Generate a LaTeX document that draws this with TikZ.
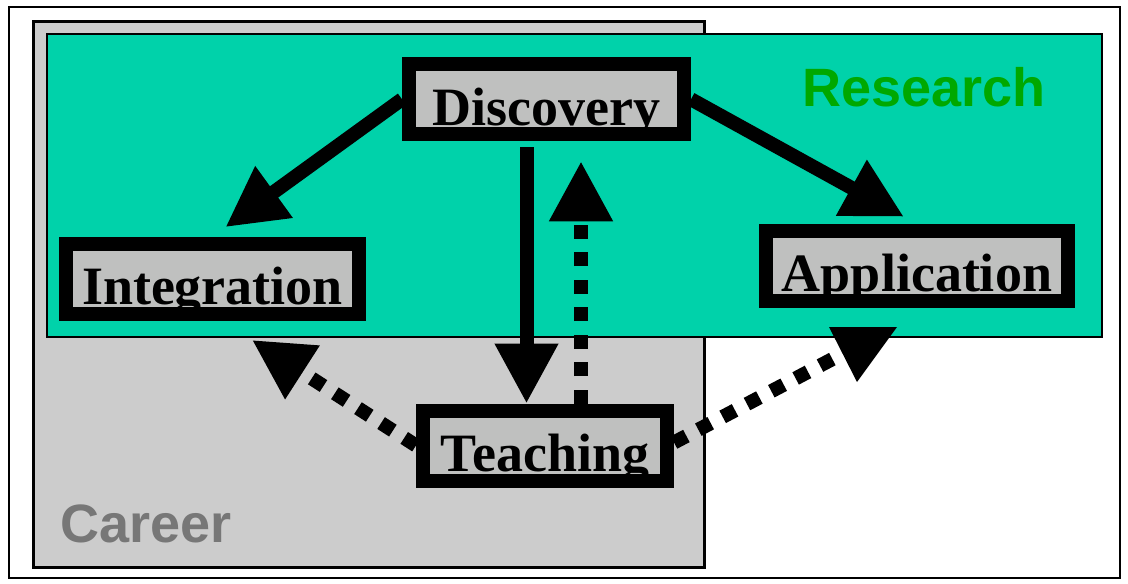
\documentclass[tikz,border=0pt]{standalone}
\usepackage{fontspec}
\setmainfont{Liberation Serif}
\setsansfont{Liberation Sans}
\usepackage{tikz}
\usetikzlibrary{arrows.meta}

\definecolor{researchteal}{RGB}{0,210,170}
\definecolor{careergray}{RGB}{204,204,204}
\definecolor{boxgray}{RGB}{191,192,191}
\definecolor{researchgreen}{RGB}{0,168,0}
\definecolor{careertext}{RGB}{119,119,119}

\begin{document}
\begin{tikzpicture}[x=1pt, y=-1pt,
	scholar/.style={draw=black, fill=boxgray, line width=14pt, inner sep=0pt,
		minimum height=70pt, text height=51.5pt, text depth=0pt,
		font=\bfseries\fontsize{54}{60}\selectfont},
	flow/.style={line width=14pt, -{Triangle[length=60pt, width=60pt]}},
	dots/.style={flow, dash pattern=on 14pt off 13.5pt},
	arealabel/.style={font=\sffamily\bfseries\fontsize{54}{60}\selectfont,
		inner sep=0pt, anchor=base west}]
	\useasboundingbox (0,0) rectangle (1128,584);

	% Drawing the frame and the two areas
	\draw[line width=2.5pt] (9,7) rectangle (1120,578);
	\draw[fill=careergray, line width=3pt] (33,21) rectangle (704,567);
	\draw[fill=researchteal, line width=1.5pt] (47,34) rectangle (1102,337);
	\node[arealabel, text=researchgreen] (ResLbl) at (802,106) {Research};
	\node[arealabel, text=careertext] (CarLbl) at (60,542) {Career};

	% Drawing the boxes
	\node[scholar, minimum width=275pt] (Disc) at (546.5,99.25) {Discovery};
	\node[scholar, minimum width=293pt] (Integ) at (212.5,278.5) {Integration};
	\node[scholar, minimum width=302pt] (Appl) at (917,266) {Application};
	\node[scholar, minimum width=244pt] (Teach) at (545,445.5) {Teaching};

	% Drawing the solid arrows
	\draw[flow, shorten >=16pt] (Disc.west) -- (Integ.north);
	\draw[flow, shorten >=15pt] (Disc.east) -- (Appl.north);
	\draw[flow, shorten <=6pt] ([xshift=-20pt]Disc.south) -- ([xshift=-20pt]Disc.south |- Teach.north);

	% Drawing the dotted arrows
	\draw[dots, shorten >=20pt] ([xshift=36pt]Teach.north) -- ([xshift=36pt]Teach.north |- Disc.south);
	\coordinate (IntegTip) at (252,340);
	\draw[dots] (Teach.west) -- (IntegTip);
	\coordinate (ApplEnd) at (842,354);
	\draw[line width=14pt, dash pattern=on 14pt off 13.5pt] ([yshift=3pt]Teach.east) -- (ApplEnd);
	\fill (829,327) -- (897,327) -- (857,382) -- cycle;
\end{tikzpicture}
\end{document}
